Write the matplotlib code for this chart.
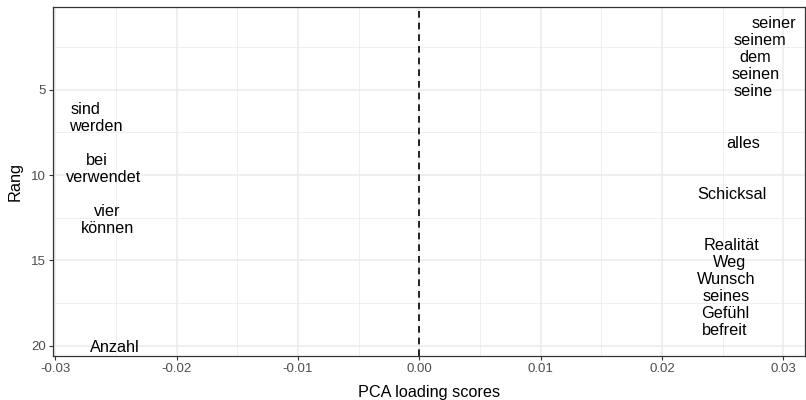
"""
PCA loading scores per word, ranked
"""

import matplotlib
matplotlib.use("Agg")
import matplotlib.pyplot as plt
from matplotlib.ticker import MultipleLocator

plt.rcParams['font.family'] = ['Liberation Sans', 'DejaVu Sans']

# Words with positive loadings (right side)
POS_WORDS = ['seiner', 'seinem', 'dem', 'seinen', 'seine', 'alles', 'Schicksal',
             'Realität', 'Weg', 'Wunsch', 'seines', 'Gefühl', 'befreit']
POS_RANK = [1, 2, 3, 4, 5, 8, 11, 14, 15, 16, 17, 18, 19]
POS_SCORE = [0.0292, 0.0281, 0.0277, 0.0277, 0.0275, 0.0267, 0.0258,
             0.0257, 0.0256, 0.0253, 0.0253, 0.0252, 0.0252]

# Words with negative loadings (left side)
NEG_WORDS = ['sind', 'werden', 'bei', 'verwendet', 'vier', 'können', 'Anzahl']
NEG_RANK = [6, 7, 9, 10, 12, 13, 20]
NEG_SCORE = [-0.0275, -0.0267, -0.0266, -0.0260, -0.0257, -0.0257, -0.0251]

GRID = '#EBEBEB'
TICK_COL = '#4D4D4D'
TEXT_SIZE = 11.7

fig = plt.figure(figsize=(8.06, 4.0), dpi=100)
ax = fig.add_axes([53 / 806, 44 / 400, 752 / 806, 349 / 400])

# labels sit with their x-height centred on the data point
for words, ranks, scores in ((POS_WORDS, POS_RANK, POS_SCORE),
                             (NEG_WORDS, NEG_RANK, NEG_SCORE)):
    for w, r, s in zip(words, ranks, scores):
        ax.annotate(w, (s, r), xytext=(0, -4.8), textcoords='offset points',
                    ha='center', va='baseline', fontsize=TEXT_SIZE,
                    color='black')

ax.axvline(0, color='black', linestyle=(0, (4, 3)), linewidth=1.2)

ax.set_xlim(-0.0302, 0.0318)
ax.set_ylim(20.6, 0.15)

ax.xaxis.set_minor_locator(MultipleLocator(0.005))
ax.yaxis.set_minor_locator(MultipleLocator(2.5))
ax.set_xticks([-0.03, -0.02, -0.01, 0.0, 0.01, 0.02, 0.03])
ax.set_xticklabels(['-0.03', '-0.02', '-0.01', '0.00', '0.01', '0.02', '0.03'])
ax.set_yticks([5, 10, 15, 20])

ax.grid(which='major', color=GRID, linewidth=1.1)
ax.grid(which='minor', color=GRID, linewidth=0.55)
ax.set_axisbelow(True)

ax.tick_params(which='major', length=3, width=0.8, color='#333333',
               labelsize=9.5, labelcolor=TICK_COL, pad=2)
ax.tick_params(which='minor', length=0)

for sp in ax.spines.values():
    sp.set_color('#333333')
    sp.set_linewidth(0.9)

ax.set_xlabel('PCA loading scores', fontsize=TEXT_SIZE, labelpad=7)
ax.set_ylabel('Rang', fontsize=TEXT_SIZE, labelpad=6)

fig.savefig('out.png', dpi=100)
plt.close(fig)
